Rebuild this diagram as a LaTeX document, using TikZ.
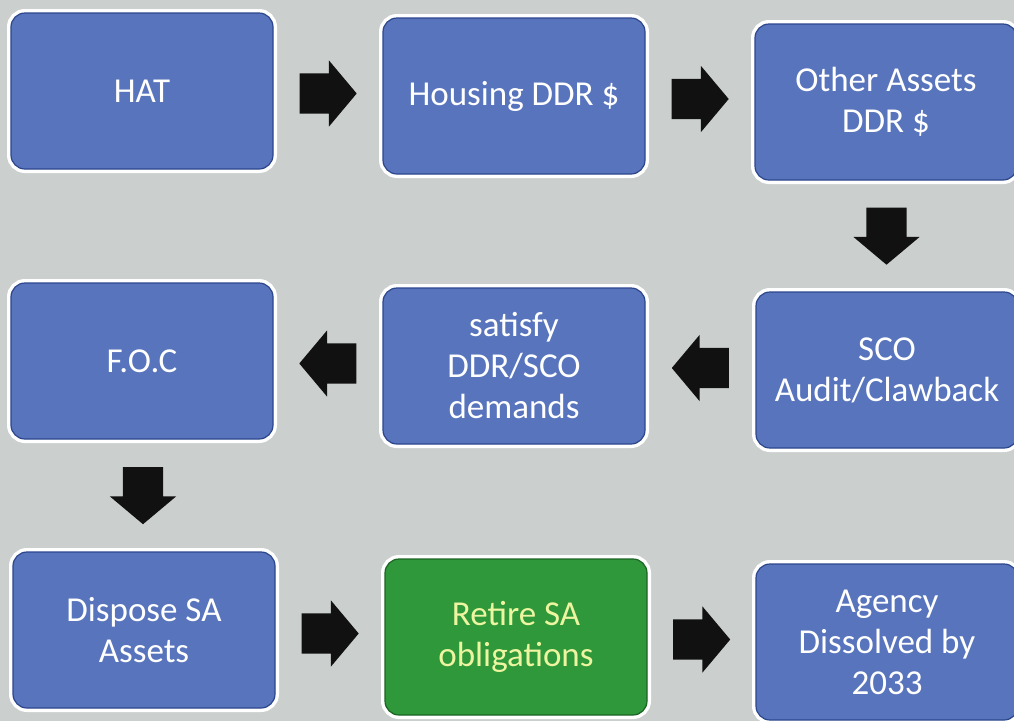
\documentclass[tikz,border=0pt]{standalone}
\usepackage{fontspec}
\setmainfont{Carlito}
\usetikzlibrary{shapes.arrows,calc}
\definecolor{bg}{RGB}{203,207,206}
\definecolor{boxblue}{RGB}{88,116,188}
\definecolor{boxedge}{RGB}{44,70,140}
\definecolor{boxgreen}{RGB}{46,152,58}
\definecolor{greenedge}{RGB}{28,100,36}
\definecolor{greentext}{RGB}{238,245,160}
\definecolor{arrowblack}{RGB}{17,17,17}
\begin{document}
\begin{tikzpicture}[x=1pt,y=-1pt,
  box/.style={rectangle, rounded corners=14pt, minimum width=262pt, minimum height=156pt,
    inner sep=0pt, align=center, fill=boxblue, draw=boxedge, line width=1.2pt,
    preaction={draw=white, line width=8pt}, text=white,
    font=\fontsize{35}{41}\selectfont},
  gbox/.style={box, fill=boxgreen, draw=greenedge, text=greentext},
  barrow/.style={single arrow, draw=none, fill=arrowblack, minimum height=57pt,
    inner xsep=0pt, inner ysep=20pt, single arrow head extend=13pt,
    single arrow tip angle=100, anchor=tail}]
\fill[bg] (0,0) rectangle (1014,721);
\useasboundingbox (0,0) rectangle (1014,721);
\node[box] (hat) at (142,91) {HAT};
\node[box] (housing) at (514,96) {Housing DDR \$};
\node[box] (other) at (886,102) {Other Assets\\DDR \$};
\node[box] (foc) at (142,361) {F.O.C};
\node[box] (satisfy) at (514,366) {satisfy\\DDR/SCO\\demands};
\node[box] (sco) at (887,370) {SCO\\Audit/Clawback};
\node[box] (dispose) at (144,630) {Dispose SA\\Assets};
\node[gbox] (retire) at (516,637) {Retire SA\\obligations};
\node[box] (agency) at (887,642) {Agency\\Dissolved by\\2033};
\node[barrow] (a1) at ($(hat.east)!0.5!(housing.west)+(-28.5,0)$) {};
\node[barrow] (a2) at ($(housing.east)!0.5!(other.west)+(-28.5,0)$) {};
\node[barrow, rotate=-90] (a3) at ($(other.south)!0.5!(sco.north)+(0,-28.5)$) {};
\node[barrow, rotate=180] (a4) at ($(sco.west)!0.5!(satisfy.east)+(28.5,0)$) {};
\node[barrow, rotate=180] (a5) at ($(satisfy.west)!0.5!(foc.east)+(28.5,0)$) {};
\node[barrow, rotate=-90] (a6) at ($(foc.south)!0.5!(dispose.north)+(0,-28.5)$) {};
\node[barrow] (a7) at ($(dispose.east)!0.5!(retire.west)+(-28.5,0)$) {};
\node[barrow] (a8) at ($(retire.east)!0.5!(agency.west)+(-28.5,0)$) {};
\end{tikzpicture}
\end{document}
